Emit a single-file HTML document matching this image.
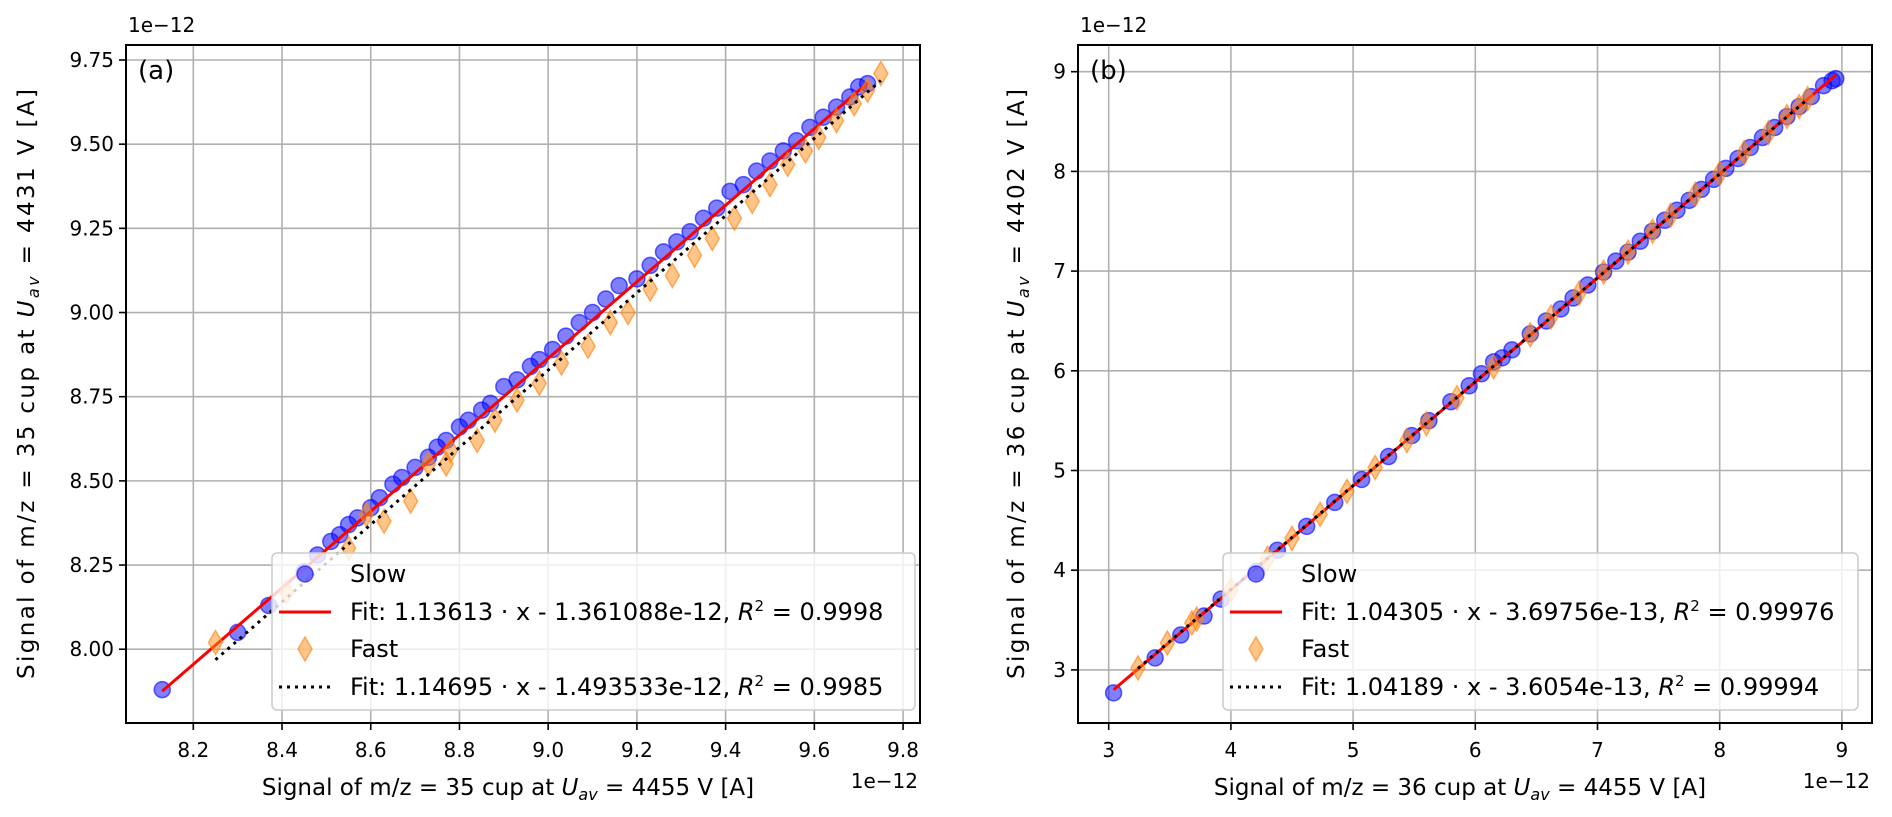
<!DOCTYPE html>
<html><head><meta charset="utf-8"><style>
body{margin:0;background:#fff;}
svg{display:block;font-family:"DejaVu Sans","Liberation Sans",sans-serif;}
</style></head><body>
<svg id="fig" width="1892" height="817" viewBox="0 0 1892 817"></svg>
<script>
// Panel (a) data (units 1e-12 A)
const slowAX=[8.13,8.30,8.37,8.45,8.48,8.51,8.53,8.55,8.57,8.60,8.62,8.65,8.67,8.70,8.73,8.75,8.77,8.80,8.82,8.85,8.87,8.90,8.93,8.96,8.98,9.01,9.04,9.07,9.10,9.13,9.16,9.20,9.23,9.26,9.29,9.32,9.35,9.38,9.41,9.44,9.47,9.50,9.53,9.56,9.59,9.62,9.65,9.68,9.70,9.72];
const slowAY=[7.88,8.05,8.13,8.23,8.28,8.32,8.34,8.37,8.39,8.42,8.45,8.49,8.51,8.54,8.57,8.60,8.62,8.66,8.68,8.71,8.73,8.78,8.80,8.84,8.86,8.89,8.93,8.97,9.00,9.04,9.08,9.10,9.14,9.18,9.21,9.24,9.28,9.31,9.36,9.38,9.42,9.45,9.48,9.51,9.55,9.58,9.61,9.64,9.67,9.68];
const fastAX=[8.25,8.41,8.55,8.59,8.63,8.69,8.73,8.77,8.78,8.84,8.88,8.93,8.98,9.03,9.09,9.14,9.18,9.23,9.28,9.33,9.37,9.42,9.46,9.50,9.54,9.58,9.61,9.65,9.69,9.72,9.75];
const fastAY=[8.02,8.17,8.30,8.40,8.38,8.44,8.55,8.55,8.59,8.62,8.68,8.74,8.79,8.85,8.90,8.97,9.00,9.07,9.11,9.17,9.22,9.28,9.33,9.38,9.44,9.48,9.52,9.57,9.62,9.66,9.71];
const fitA=[1.13613,-1.361088], fitAFast=[1.14695,-1.493533];
const xTicksA=["8.2","8.4","8.6","8.8","9.0","9.2","9.4","9.6","9.8"];
const yTicksA=["8.00","8.25","8.50","8.75","9.00","9.25","9.50","9.75"];
// Panel (b) data
const slowBX=[3.04,3.38,3.59,3.78,3.92,4.21,4.38,4.62,4.85,5.07,5.29,5.48,5.62,5.80,5.95,6.05,6.15,6.22,6.30,6.45,6.58,6.70,6.80,6.92,7.05,7.15,7.25,7.35,7.45,7.55,7.65,7.75,7.85,7.95,8.05,8.15,8.25,8.35,8.45,8.55,8.65,8.75,8.85,8.92,8.95];
const slowBY=[2.77,3.12,3.35,3.54,3.71,3.99,4.20,4.44,4.68,4.91,5.14,5.35,5.50,5.69,5.85,5.97,6.09,6.13,6.21,6.37,6.50,6.62,6.73,6.86,6.99,7.10,7.19,7.30,7.40,7.51,7.61,7.71,7.82,7.92,8.03,8.13,8.24,8.34,8.44,8.55,8.65,8.75,8.86,8.91,8.93];
const fastBX=[3.24,3.48,3.68,3.72,4.00,4.30,4.50,4.73,4.95,5.18,5.44,5.60,5.85,6.15,6.45,6.62,6.85,7.05,7.25,7.45,7.60,7.80,8.00,8.20,8.40,8.55,8.65,8.72];
const fastBY=[3.02,3.27,3.47,3.51,3.80,4.12,4.32,4.56,4.79,5.03,5.30,5.47,5.73,6.04,6.36,6.54,6.78,6.99,7.19,7.40,7.56,7.77,7.98,8.19,8.39,8.55,8.65,8.73];
const fitB=[1.04305,-0.369756], fitBFast=[1.04189,-0.36054];
const xTicksB=["3","4","5","6","7","8","9"];
const yTicksB=["3","4","5","6","7","8","9"];

const NS="http://www.w3.org/2000/svg";
const svg=document.getElementById('fig');
function mk(tag,attrs,parent){const e=document.createElementNS(NS,tag);for(const k in attrs)e.setAttribute(k,attrs[k]);(parent||svg).appendChild(e);return e;}

function panel(P){
  const g=mk('g',{});
  
  
  const X=v=>P.x0+(v-P.xv0)*P.xs, Y=v=>P.y0+(P.yv0-v)*P.ys;
  const cid='clip'+P.id;
  const cp=mk('clipPath',{id:cid},g);mk('rect',{x:P.L,y:P.T,width:P.R-P.L,height:P.B-P.T},cp);
  P.xt.forEach(t=>{const x=X(parseFloat(t));
    const l=mk('line',{x1:x,x2:x,y1:P.T,y2:P.B,stroke:'#b0b0b0','stroke-width':1.6},g);
    
    mk('line',{x1:x,x2:x,y1:P.B,y2:P.B+7,stroke:'#000','stroke-width':1.6},g);
    const tx=mk('text',{x:x,y:P.B+34,'font-size':20,'text-anchor':'middle'},g);tx.textContent=t;
    });
  P.yt.forEach(t=>{const y=Y(parseFloat(t));
    const l=mk('line',{x1:P.L,x2:P.R,y1:y,y2:y,stroke:'#b0b0b0','stroke-width':1.6},g);
    
    mk('line',{x1:P.L-7,x2:P.L,y1:y,y2:y,stroke:'#000','stroke-width':1.6},g);
    const tx=mk('text',{x:P.L-12,y:y+7,'font-size':20,'text-anchor':'end'},g);tx.textContent=t;
    });
  const data=mk('g',{'clip-path':'url(#'+cid+')'},g);
  
  P.sx.forEach((v,i)=>{const c=mk('circle',{cx:X(v),cy:Y(P.sy[i]),r:8,fill:'rgba(0,0,255,0.5)',stroke:'rgba(0,0,255,0.6)','stroke-width':1.5},data);
    });
  const sxMin=Math.min(...P.sx),sxMax=Math.max(...P.sx);
  const rl=mk('line',{x1:X(sxMin),y1:Y(P.fs[0]*sxMin+P.fs[1]),x2:X(sxMax),y2:Y(P.fs[0]*sxMax+P.fs[1]),stroke:'#ff0000','stroke-width':3},data);
  
  P.fx.forEach((v,i)=>{const x=X(v),y=Y(P.fy[i]);
    const d=mk('polygon',{points:`${x},${y-12} ${x+7},${y} ${x},${y+12} ${x-7},${y}`,fill:'rgba(255,140,20,0.5)',stroke:'rgba(255,127,14,0.6)','stroke-width':1.5},data);
    });
  const fxMin=Math.min(...P.fx),fxMax=Math.max(...P.fx);
  const bl=mk('line',{x1:X(fxMin),y1:Y(P.ff[0]*fxMin+P.ff[1]),x2:X(fxMax),y2:Y(P.ff[0]*fxMax+P.ff[1]),stroke:'#000','stroke-width':3,'stroke-dasharray':'3,5'},data);
  
  mk('rect',{x:P.L,y:P.T,width:P.R-P.L,height:P.B-P.T,fill:'none',stroke:'#000','stroke-width':2},g);
  const o1=mk('text',{x:P.L+2,y:P.T-13,'font-size':20},g);o1.textContent='1e\u221212';
  
  const o2=mk('text',{x:P.R-2,y:P.B+65,'font-size':20,'text-anchor':'end'},g);o2.textContent='1e\u221212';
  
  const pl=mk('text',{x:P.L+12,y:P.T+34,'font-size':26},g);pl.textContent=P.tag;
  
  const xl=mk('text',{x:(P.L+P.R)/2-15,y:P.B+72,'font-size':23,'text-anchor':'middle'},g);
  xl.innerHTML='Signal of m/z = '+P.m+' cup at <tspan font-style="italic">U</tspan><tspan font-style="italic" font-size="16" dy="5">av</tspan><tspan dy="-5"> = 4455 V [A]</tspan>';
  
  const cy=(P.T+P.B)/2;
  const yl=mk('text',{x:P.yx,y:cy,'font-size':23,'text-anchor':'middle',textLength:590,lengthAdjust:'spacing',transform:`rotate(-90 ${P.yx} ${cy})`},g);
  yl.innerHTML='Signal of m/z = '+P.m+' cup at <tspan font-style="italic">U</tspan><tspan font-style="italic" font-size="16" dy="5">av</tspan><tspan dy="-5"> = '+P.uy+' V [A]</tspan>';
  
  const lg=mk('g',{},g);
  mk('rect',{x:P.lx,y:553,width:P.lw,height:157,rx:5,fill:'rgba(255,255,255,0.8)',stroke:'#cccccc','stroke-width':1.5},lg);
  const hx=P.lx+33, tx=P.lx+78, rows=[574,612,649,687];
  mk('circle',{cx:hx,cy:rows[0],r:8,fill:'rgba(0,0,255,0.5)',stroke:'rgba(0,0,255,0.6)','stroke-width':1.5},lg);
  mk('line',{x1:hx-26,x2:hx+26,y1:rows[1],y2:rows[1],stroke:'#f00','stroke-width':3},lg);
  mk('polygon',{points:`${hx},${rows[2]-12} ${hx+7},${rows[2]} ${hx},${rows[2]+12} ${hx-7},${rows[2]}`,fill:'rgba(255,140,20,0.5)',stroke:'rgba(255,127,14,0.6)','stroke-width':1.5},lg);
  mk('line',{x1:hx-26,x2:hx+26,y1:rows[3],y2:rows[3],stroke:'#000','stroke-width':3,'stroke-dasharray':'3,5'},lg);
  const labels=['Slow',P.l1,'Fast',P.l2];
  labels.forEach((s,i)=>{const t=mk('text',{x:tx,y:rows[i]+8,'font-size':24},lg);t.innerHTML=s;
    });
}
const r2=v=>', <tspan font-style="italic">R</tspan><tspan font-size="15" dy="-9">2</tspan><tspan dy="9"> = '+v+'</tspan>';
panel({id:'a',name:'panel-a',tag:'(a)',m:'35',uy:'4431',L:126,R:920,T:45,B:723,
  x0:193.3,xv0:8.2,xs:443.6,y0:60,yv0:9.75,ys:336.7,xt:xTicksA,yt:yTicksA,
  sx:slowAX,sy:slowAY,fx:fastAX,fy:fastAY,fs:fitA,ff:fitAFast,yx:34,lx:272,lw:643,
  l1:'Fit: 1.13613 · x - 1.361088e-12'+r2('0.9998'),l2:'Fit: 1.14695 · x - 1.493533e-12'+r2('0.9985')});
panel({id:'b',name:'panel-b',tag:'(b)',m:'36',uy:'4402',L:1078,R:1872,T:45,B:723,
  x0:1108.7,xv0:3,xs:122.2,y0:71.7,yv0:9,ys:99.7,xt:xTicksB,yt:yTicksB,
  sx:slowBX,sy:slowBY,fx:fastBX,fy:fastBY,fs:fitB,ff:fitBFast,yx:1024,lx:1223,lw:635,
  l1:'Fit: 1.04305 · x - 3.69756e-13'+r2('0.99976'),l2:'Fit: 1.04189 · x - 3.6054e-13'+r2('0.99994')});
</script>
</body></html>
